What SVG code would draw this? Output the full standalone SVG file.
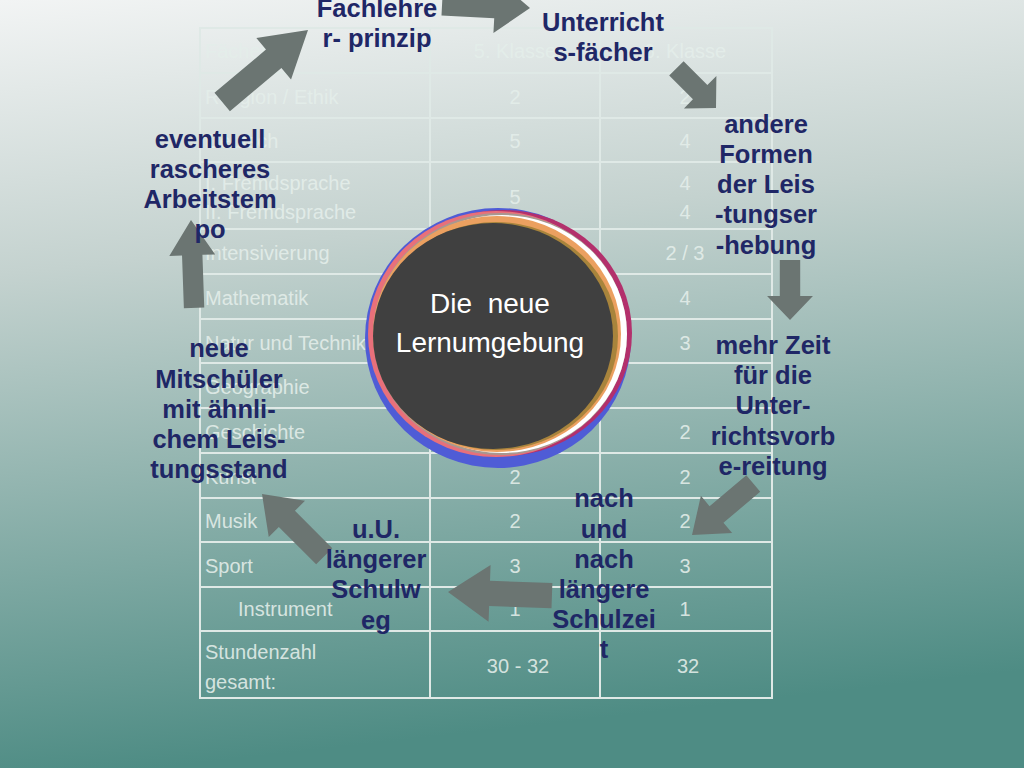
<svg xmlns="http://www.w3.org/2000/svg" width="1024" height="768" viewBox="0 0 1024 768">
<defs>
<linearGradient id="bg" x1="0" y1="0" x2="0.15" y2="1">
<stop offset="0" stop-color="#f2f4f4"/><stop offset="0.35" stop-color="#c4d2cf"/><stop offset="1" stop-color="#4e8c84"/>
</linearGradient>
<path id="arr" d="M-80,-12 L-32,-12 L-32,-27 L0,0 L-32,27 L-32,12 L-80,12 Z" fill="#6b7572"/>
</defs>
<style>
.t{font-family:"Liberation Sans",Arial,sans-serif;font-size:20px;fill:#e4eeea;fill-opacity:0.9}
.c{text-anchor:middle}
.l{font-family:"Liberation Sans",Arial,sans-serif;font-size:25.5px;font-weight:bold;fill:#1f2766;text-anchor:middle}
.g{stroke:#dfe9e6;stroke-width:2;fill:none}
</style>
<rect width="1024" height="768" fill="url(#bg)"/>
<g id="table">
<rect x="200" y="28" width="572" height="670" fill="#8fb8ad" fill-opacity="0.5" class="g"/>
<path class="g" d="M430,28V698M600,28V698M200,73H772M200,118H772M200,162H772M200,229H772M200,274H772M200,319H772M200,363H772M200,408H772M200,453H772M200,498H772M200,542H772M200,587H772M200,631H772"/>
<text class="t" x="205" y="58">Fächer</text><text class="t c" x="515" y="58">5. Klasse</text><text class="t c" x="685" y="58">6. Klasse</text>
<text class="t" x="205" y="104">Religion / Ethik</text><text class="t c" x="515" y="104">2</text><text class="t c" x="685" y="104">2</text>
<text class="t" x="205" y="148">Deutsch</text><text class="t c" x="515" y="148">5</text><text class="t c" x="685" y="148">4</text>
<text class="t" x="205" y="190">I. Fremdsprache</text><text class="t" x="205" y="219">II. Fremdsprache</text><text class="t c" x="515" y="204">5</text><text class="t c" x="685" y="190">4</text><text class="t c" x="685" y="219">4</text>
<text class="t" x="205" y="260">Intensivierung</text><text class="t c" x="685" y="260">2 / 3</text>
<text class="t" x="205" y="305">Mathematik</text><text class="t c" x="685" y="305">4</text>
<text class="t" x="205" y="350">Natur und Technik</text><text class="t c" x="685" y="350">3</text>
<text class="t" x="205" y="394">Geographie</text>
<text class="t" x="205" y="439">Geschichte</text><text class="t c" x="685" y="439">2</text>
<text class="t" x="205" y="484">Kunst</text><text class="t c" x="515" y="484">2</text><text class="t c" x="685" y="484">2</text>
<text class="t" x="205" y="528">Musik</text><text class="t c" x="515" y="528">2</text><text class="t c" x="685" y="528">2</text>
<text class="t" x="205" y="573">Sport</text><text class="t c" x="515" y="573">3</text><text class="t c" x="685" y="573">3</text>
<text class="t" x="238" y="616">Instrument</text><text class="t c" x="515" y="616">1</text><text class="t c" x="685" y="616">1</text>
<text class="t" x="205" y="659">Stundenzahl</text><text class="t" x="205" y="689">gesamt:</text><text class="t c" x="518" y="673">30 - 32</text><text class="t c" x="688" y="673">32</text>
</g>
<g id="center">
<ellipse cx="498" cy="338" rx="133" ry="130" fill="#4f5cd6"/>
<ellipse cx="503" cy="333" rx="129" ry="123" fill="#b3306c"/>
<ellipse cx="496" cy="334" rx="128" ry="123" fill="#e8707a"/>
<ellipse cx="500" cy="334" rx="127" ry="121" fill="#a89890"/>
<ellipse cx="502" cy="334" rx="125" ry="119" fill="#ffffff"/>
<ellipse cx="497" cy="334" rx="124" ry="118" fill="#eba060"/>
<ellipse cx="496" cy="336" rx="122" ry="114" fill="#a8843c"/>
<ellipse cx="493" cy="336" rx="120" ry="113" fill="#404040"/>
<text x="490" y="313" font-family="Liberation Sans,Arial,sans-serif" font-size="28" fill="#ffffff" text-anchor="middle">Die&#160; neue</text>
<text x="490" y="352" font-family="Liberation Sans,Arial,sans-serif" font-size="28" fill="#ffffff" text-anchor="middle">Lernumgebung</text>
</g>
<g id="connectors">
<use href="#arr" transform="translate(308,30) rotate(-40) scale(1.4,1)"/>
<use href="#arr" transform="translate(530,8) rotate(3) scale(1.1,1)"/>
<use href="#arr" transform="translate(716,108) rotate(45) scale(0.7,0.85)"/>
<use href="#arr" transform="translate(790,320) rotate(90) scale(0.75,0.85)"/>
<use href="#arr" transform="translate(692,535) rotate(140) scale(1,0.9)"/>
<use href="#arr" transform="translate(448,592) rotate(182) scale(1.3,1.05)"/>
<use href="#arr" transform="translate(262,494) rotate(-135) scale(1.1,0.95)"/>
<use href="#arr" transform="translate(191,220) rotate(-92) scale(1.1,0.85)"/>
</g>
<g id="labels">
<text class="l"><tspan x="377" y="17">Fachlehre</tspan><tspan x="377" y="47">r- prinzip</tspan></text>
<text class="l"><tspan x="603" y="-1">neue</tspan><tspan x="603" y="31">Unterricht</tspan><tspan x="603" y="61">s-fächer</tspan></text>
<text class="l"><tspan x="766" y="133">andere</tspan><tspan x="766" y="163">Formen</tspan><tspan x="766" y="193">der Leis</tspan><tspan x="766" y="223">-tungser</tspan><tspan x="766" y="254">-hebung</tspan></text>
<text class="l"><tspan x="773" y="354">mehr Zeit</tspan><tspan x="773" y="384">für die</tspan><tspan x="773" y="414">Unter-</tspan><tspan x="773" y="445">richtsvorb</tspan><tspan x="773" y="475">e-reitung</tspan></text>
<text class="l"><tspan x="604" y="507">nach</tspan><tspan x="604" y="538">und</tspan><tspan x="604" y="568">nach</tspan><tspan x="604" y="598">längere</tspan><tspan x="604" y="628">Schulzei</tspan><tspan x="604" y="658">t</tspan></text>
<text class="l"><tspan x="376" y="538">u.U.</tspan><tspan x="376" y="568">längerer</tspan><tspan x="376" y="598">Schulw</tspan><tspan x="376" y="629">eg</tspan></text>
<text class="l"><tspan x="219" y="357">neue</tspan><tspan x="219" y="388">Mitschüler</tspan><tspan x="219" y="418">mit ähnli-</tspan><tspan x="219" y="448">chem Leis-</tspan><tspan x="219" y="478">tungsstand</tspan></text>
<text class="l"><tspan x="210" y="148">eventuell</tspan><tspan x="210" y="178">rascheres</tspan><tspan x="210" y="208">Arbeitstem</tspan><tspan x="210" y="238">po</tspan></text>
</g>
</svg>
